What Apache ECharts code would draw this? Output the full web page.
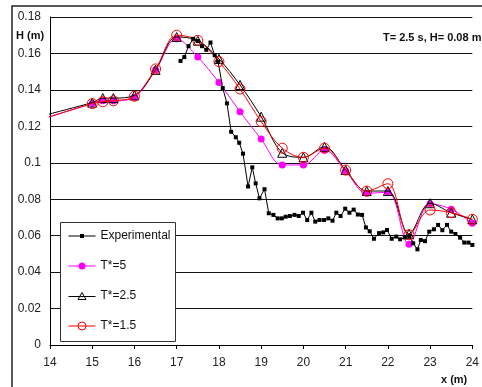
<!DOCTYPE html>
<html>
<head>
<meta charset="utf-8">
<script src="https://cdn.jsdelivr.net/npm/echarts@6/dist/echarts.min.js"></script>
<style>
  html, body { margin: 0; padding: 0; background: #fff; }
  #chart { width: 482px; height: 387px; }
</style>
</head>
<body>
<div id="chart"></div>
<script>
// Wave height along the flume: measured profile and three model runs
const seriesNames = ['Experimental', 'T*=5', 'T*=2.5', 'T*=1.5'];

const expX = [17.09, 17.18, 17.28, 17.39, 17.5, 17.6, 17.7, 17.8, 17.9, 17.98,
  18.09, 18.19, 18.29, 18.4, 18.48, 18.57, 18.69, 18.79, 18.87, 18.96,
  19.08, 19.18, 19.29, 19.39, 19.49, 19.58, 19.68, 19.79, 19.89, 19.99,
  20.09, 20.19, 20.28, 20.38, 20.49, 20.59, 20.69, 20.78, 20.88, 20.99,
  21.09, 21.19, 21.29, 21.39, 21.48, 21.57, 21.67, 21.79, 21.89, 21.98,
  22.09, 22.2, 22.29, 22.4, 22.51, 22.6, 22.7, 22.78, 22.88, 22.98,
  23.09, 23.19, 23.29, 23.4, 23.5, 23.6, 23.71, 23.81, 23.91, 24.0];
const expH = [0.1559, 0.158, 0.164, 0.168, 0.1668, 0.164, 0.162, 0.166, 0.159, 0.1555,
  0.141, 0.1326, 0.117, 0.114, 0.111, 0.105, 0.087, 0.0975, 0.0887, 0.0805,
  0.0855, 0.0723, 0.0714, 0.0695, 0.0695, 0.0704, 0.0708, 0.0714, 0.0708, 0.0726,
  0.0686, 0.0726, 0.0677, 0.0686, 0.0686, 0.0695, 0.0682, 0.0726, 0.0708, 0.0748,
  0.0726, 0.0743, 0.0716, 0.0714, 0.0645, 0.0624, 0.0583, 0.0614, 0.0618, 0.0631,
  0.0583, 0.0595, 0.058, 0.059, 0.0598, 0.0558, 0.0525, 0.0576, 0.057, 0.0622,
  0.0635, 0.0659, 0.063, 0.0659, 0.0622, 0.0609, 0.0589, 0.0562, 0.0562, 0.0549];

const modelX = [13, 15, 15.25, 15.5, 16, 16.5, 17, 17.5, 18, 18.5, 19, 19.5,
  20, 20.5, 21, 21.5, 22, 22.5, 23, 23.5, 24];
const hT5 = [0.118, 0.1325, 0.134, 0.134, 0.136, 0.151, 0.168, 0.158, 0.144, 0.128, 0.113, 0.0988,
  0.0988, 0.107, 0.0955, 0.0833, 0.0838, 0.0553, 0.0775, 0.0745, 0.0668];
const hT25 = [0.121, 0.133, 0.1355, 0.1355, 0.137, 0.151, 0.169, 0.167, 0.157, 0.1427, 0.1253, 0.1055,
  0.103, 0.1088, 0.096, 0.0845, 0.0845, 0.061, 0.0778, 0.0726, 0.069];
const hT15 = [0.118, 0.1325, 0.1335, 0.134, 0.1365, 0.1515, 0.170, 0.1672, 0.1555, 0.1405, 0.1226, 0.108,
  0.103, 0.108, 0.096, 0.0845, 0.0885, 0.0605, 0.0741, 0.0726, 0.069];

const xTicks = ['14', '15', '16', '17', '18', '19', '20', '21', '22', '23', '24'];
const yTicks = ['0', '0.02', '0.04', '0.06', '0.08', '0.1', '0.12', '0.14', '0.16', '0.18'];

const pairs = (xs, ys) => xs.map((x, i) => [x, ys[i]]);
const FONT = 'Liberation Sans, Arial, sans-serif';

// Legend glyphs on a 27x10 box: a line with a small marker in its middle.
// The zero-length corner segments pin the path bounds to the full box.
const BOX = ' M0,0L0,0 M27,10L27,10';
const ICON_SQUARE = 'path://M0,4.5L27,4.5L27,5.5L0,5.5Z M11.5,3L15.5,3L15.5,7L11.5,7Z' + BOX;
const ICON_DOT = 'path://M0,4.5L27,4.5L27,5.5L0,5.5Z M17,5A3.5,3.5,0,1,1,10,5A3.5,3.5,0,1,1,17,5Z' + BOX;
const ICON_TRI = 'path://M0,5.5L27,5.5 M13.5,1.5L17.5,8.5L9.5,8.5Z' + BOX;
const ICON_RING = 'path://M0,5L27,5 M17.5,5A4,4,0,1,1,9.5,5A4,4,0,1,1,17.5,5Z' + BOX;

const chart = echarts.init(document.getElementById('chart'), null, { renderer: 'canvas' });

chart.setOption({
  animation: false,
  backgroundColor: '#fff',
  grid: { left: 50, right: 2, top: 17, bottom: 42, containLabel: false },
  xAxis: {
    type: 'value', min: 14, max: 24, interval: 1,
    axisLine: { lineStyle: { color: '#000', width: 1 } },
    axisTick: { show: true, inside: false, length: 4, lineStyle: { color: '#000' } },
    splitLine: { show: false },
    axisLabel: {
      color: '#222', fontFamily: FONT, fontSize: 12, margin: 12,
      formatter: v => xTicks[Math.round(v - 14)]
    }
  },
  yAxis: {
    type: 'value', min: 0, max: 0.18, interval: 0.02,
    axisLine: { show: true, lineStyle: { color: '#000', width: 1 } },
    axisTick: { show: false },
    splitLine: { show: true, lineStyle: { color: '#111', width: 1 } },
    axisLabel: {
      color: '#222', fontFamily: FONT, fontSize: 12, margin: 9,
      formatter: v => yTicks[Math.round(v / 0.02)]
    }
  },
  legend: {
    orient: 'vertical', left: 68, top: 230, z: 6,
    data: [
      { name: seriesNames[0], icon: ICON_SQUARE },
      { name: seriesNames[1], icon: ICON_DOT },
      { name: seriesNames[2], icon: ICON_TRI, itemStyle: { borderWidth: 1 } },
      { name: seriesNames[3], icon: ICON_RING, itemStyle: { borderWidth: 1 } }
    ],
    itemWidth: 27, itemHeight: 10, itemGap: 18,
    padding: 0,
    textStyle: { color: '#111', fontFamily: FONT, fontSize: 12 }
  },
  graphic: [
    { type: 'rect', z: 0, silent: true,
      shape: { x: 12, y: 6, width: 520, height: 420 },
      style: { fill: 'none', stroke: '#222', lineWidth: 1.5 } },
    { type: 'rect', z: 5, silent: true,
      shape: { x: 60.5, y: 222.5, width: 115, height: 119 },
      style: { fill: '#fff', stroke: '#333', lineWidth: 1 } },
    { type: 'text', z: 6, left: 16, top: 30,
      style: { text: 'H (m)', fill: '#111', font: 'bold 11px ' + FONT } },
    { type: 'text', z: 6, left: 441, top: 374,
      style: { text: 'x (m)', fill: '#111', font: 'bold 11px ' + FONT } },
    { type: 'text', z: 6, left: 383, top: 32,
      style: { text: 'T= 2.5 s, H= 0.08 m', fill: '#111', font: 'bold 11px ' + FONT } }
  ],
  series: [
    {
      name: 'T*=5', type: 'line', smooth: 0.35, clip: true, z: 2,
      data: pairs(modelX, hT5),
      symbol: 'circle', symbolSize: 7,
      lineStyle: { color: '#ff00ff', width: 1 },
      itemStyle: { color: '#ff00ff' }
    },
    {
      name: 'T*=2.5', type: 'line', smooth: 0.35, clip: true, z: 3,
      data: pairs(modelX, hT25),
      symbol: 'triangle', symbolSize: 9,
      lineStyle: { color: '#000', width: 1 },
      itemStyle: { color: 'rgba(0,0,0,0)', borderColor: '#000', borderWidth: 1 }
    },
    {
      name: 'T*=1.5', type: 'line', smooth: 0.35, clip: true, z: 4,
      data: pairs(modelX, hT15),
      symbol: 'circle', symbolSize: 10,
      lineStyle: { color: '#ff0000', width: 1 },
      itemStyle: { color: 'rgba(0,0,0,0)', borderColor: '#ff0000', borderWidth: 1 }
    },
    {
      name: 'Experimental', type: 'line', smooth: false, clip: true, z: 4,
      data: pairs(expX, expH),
      symbol: 'rect', symbolSize: 4,
      lineStyle: { color: '#000', width: 1 },
      itemStyle: { color: '#000' }
    }
  ]
});
</script>
</body>
</html>
